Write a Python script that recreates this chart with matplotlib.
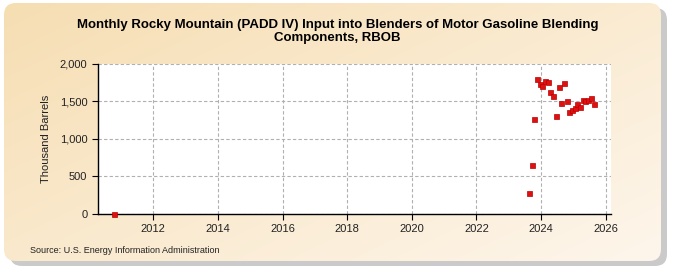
import numpy as np
import matplotlib
matplotlib.use("Agg")
import matplotlib.pyplot as plt
from matplotlib.patches import FancyBboxPatch

# data: monthly values (thousand barrels)
months = ["2010-10",
          "2023-08", "2023-09", "2023-10", "2023-11", "2023-12",
          "2024-01", "2024-02", "2024-03", "2024-04", "2024-05", "2024-06",
          "2024-07", "2024-08", "2024-09", "2024-10", "2024-11", "2024-12",
          "2025-01", "2025-02", "2025-03", "2025-04", "2025-05", "2025-06",
          "2025-07", "2025-08"]
values = [5,
          284, 657, 1267, 1800, 1724,
          1697, 1773, 1751, 1617, 1564, 1297,
          1684, 1471, 1737, 1497, 1351, 1387,
          1404, 1463, 1417, 1511, 1497, 1511,
          1537, 1457]

xticks = [2012, 2014, 2016, 2018, 2020, 2022, 2024, 2026]
yticks = [0, 500, 1000, 1500, 2000]

title = "Monthly Rocky Mountain (PADD IV) Input into Blenders of Motor Gasoline Blending\nComponents, RBOB"
source = "Source: U.S. Energy Information Administration"

# decimal year, mid month
x = np.array([int(m[:4]) + (int(m[5:]) - 0.5) / 12 for m in months])
y = np.array(values)

plt.rcParams['font.family'] = ['Liberation Sans', 'DejaVu Sans']

fig = plt.figure(figsize=(6.75, 2.75), dpi=100)
fig.patch.set_facecolor("white")

# background panel with shadow and gradient
bg = fig.add_axes([0, 0, 1, 1], zorder=-10)
bg.set_xlim(0, 675)
bg.set_ylim(275, 0)
bg.axis("off")
shadow = FancyBboxPatch((10, 8), 657, 258, boxstyle="round,pad=0,rounding_size=12",
                        fc="#a8a8a8", ec="none", alpha=0.6)
bg.add_patch(shadow)
panel = FancyBboxPatch((4, 3), 657, 258, boxstyle="round,pad=0,rounding_size=12",
                       fc="none", ec="none")
bg.add_patch(panel)
gx, gy = np.meshgrid(np.linspace(0, 1, 200), np.linspace(0, 1, 100))
t = np.clip(0.55 * gx + 0.45 * gy, 0, 1)
c0 = np.array([0.965, 0.87, 0.70])
c1 = np.array([0.995, 0.965, 0.925])
img = c0[None, None, :] * (1 - t[..., None]) + c1[None, None, :] * t[..., None]
im = bg.imshow(img, extent=[4, 661, 261, 3], aspect="auto", zorder=1)
im.set_clip_path(panel)

ax = fig.add_axes([97.7 / 675, 61 / 275, (610.7 - 97.7) / 675, (214 - 63.5) / 275])
ax.set_facecolor("white")
ax.plot(x, y, linestyle="none", marker="s", markersize=3.6, clip_on=False,
        color="#dd1111", markeredgecolor="#bb0000", markeredgewidth=0.5, zorder=3)

ax.set_xlim(2010.28, 2026.155)
ax.set_ylim(0, 2000)
ax.set_xticks(xticks)
ax.set_yticks(yticks)
ax.set_yticklabels([f"{v:,}" for v in yticks])
ax.grid(True, linestyle=(0, (3, 2)), color="#b0b0b0", linewidth=0.8)
ax.set_axisbelow(True)
for s in ["top", "right"]:
    ax.spines[s].set_visible(False)
ax.spines["left"].set_linewidth(1.0)
ax.spines["bottom"].set_linewidth(1.0)
ax.tick_params(axis="both", labelsize=8, colors="black", length=4, width=0.8, labelcolor="#222222")
ax.set_ylabel("Thousand Barrels", fontsize=8, color="#222222", labelpad=6)

fig.text(0.5, 0.885, title, ha="center", va="center", fontsize=9.5,
         fontweight="bold", color="black", linespacing=1.15)
fig.text(0.045, 0.09, source, ha="left", va="center", fontsize=6.5, color="#222222")

fig.savefig("out.png", dpi=100)
